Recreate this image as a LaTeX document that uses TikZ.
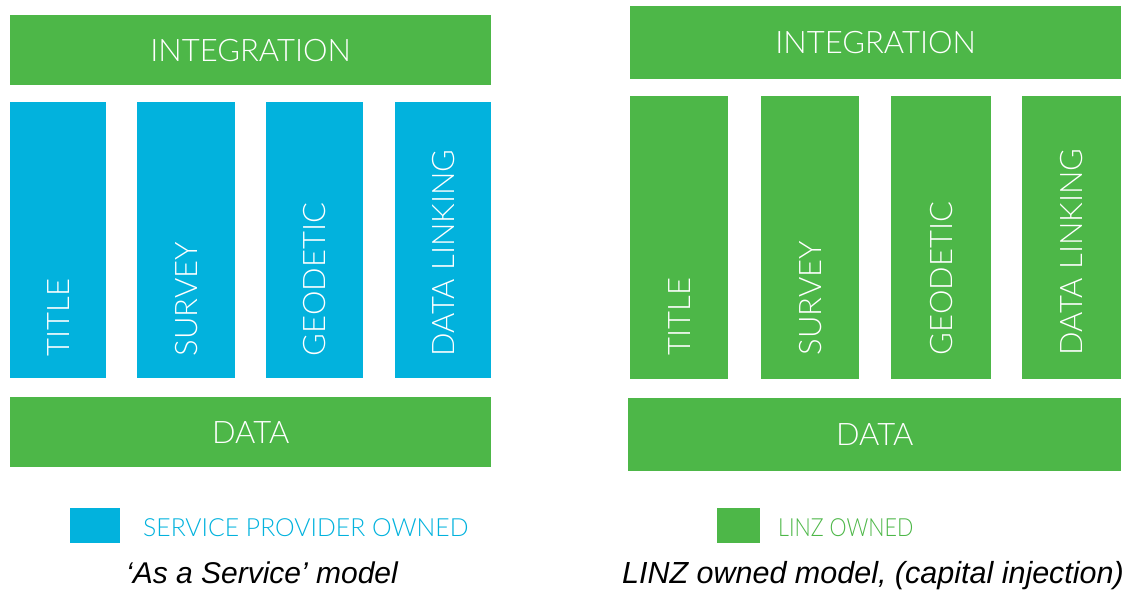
\documentclass[tikz,border=0pt]{standalone}
\usepackage{fontspec}
\newfontfamily\labelfont{Lato Light}
\newfontfamily\capfont{Liberation Sans}
\definecolor{linzgreen}{RGB}{77,183,72}
\definecolor{spblue}{RGB}{2,178,221}
\tikzset{
  block/.style={fill=#1, draw=none, inner sep=0pt, anchor=north west},
  barlabel/.style={text=white, font=\labelfont\fontsize{31}{31}\selectfont},
  collabel/.style={text=white, inner sep=0pt, rotate=90, anchor=west,
    font=\labelfont\fontsize{31}{31}\selectfont},
  keytext/.style={text=#1, inner sep=0pt, anchor=base west,
    font=\labelfont\fontsize{25}{25}\selectfont},
  caption/.style={text=black, inner sep=0pt, anchor=base,
    font=\capfont\itshape\fontsize{30}{30}\selectfont}
}
\begin{document}
\begin{tikzpicture}[x=1pt,y=-1pt]
\useasboundingbox (0,0) rectangle (1132,590);

% ---- 'As a Service' model ----
\node[block=linzgreen, minimum width=481pt, minimum height=70pt] (intL) at (10,15) {};
\node[barlabel] at (intL.center) {INTEGRATION};
\node[block=spblue, minimum width=96pt, minimum height=276pt] (titleL) at (10,102) {};
\node[block=spblue, minimum width=98pt, minimum height=276pt] (surveyL) at (137,102) {};
\node[block=spblue, minimum width=97pt, minimum height=276pt] (geoL) at (266,102) {};
\node[block=spblue, minimum width=96pt, minimum height=276pt] (linkL) at (395,102) {};
\foreach \c/\t in {titleL/TITLE, surveyL/SURVEY, geoL/GEODETIC, linkL/DATA LINKING}
  \node[collabel] at ([yshift=22pt]\c.south) {\t};
\node[block=linzgreen, minimum width=481pt, minimum height=70pt] (dataL) at (10,397) {};
\node[barlabel] at (dataL.center) {DATA};
\node[block=spblue, minimum width=50pt, minimum height=35pt] (keyL) at (70,508) {};
\node[keytext=spblue, xscale=0.99] (keyLtxt) at (143,536) {SERVICE PROVIDER OWNED};
\node[caption] (capL) at (262,583) {‘As a Service’ model};

% ---- LINZ owned model ----
\node[block=linzgreen, minimum width=491pt, minimum height=73pt] (intR) at (630,6) {};
\node[barlabel] at (intR.center) {INTEGRATION};
\node[block=linzgreen, minimum width=98pt, minimum height=283pt] (titleR) at (630,96) {};
\node[block=linzgreen, minimum width=98pt, minimum height=283pt] (surveyR) at (761,96) {};
\node[block=linzgreen, minimum width=100pt, minimum height=283pt] (geoR) at (891,96) {};
\node[block=linzgreen, minimum width=99pt, minimum height=283pt] (linkR) at (1022,96) {};
\foreach \c/\t in {titleR/TITLE, surveyR/SURVEY, geoR/GEODETIC, linkR/DATA LINKING}
  \node[collabel] at ([yshift=24pt]\c.south) {\t};
\node[block=linzgreen, minimum width=493pt, minimum height=73pt] (dataR) at (628,398) {};
\node[barlabel] at (dataR.center) {DATA};
\node[block=linzgreen, minimum width=43pt, minimum height=35pt] (keyR) at (717,508) {};
\node[keytext=linzgreen, xscale=0.86] (keyRtxt) at (778,536) {LINZ OWNED};
\node[caption, font=\capfont\itshape\fontsize{30.5}{30.5}\selectfont] (capR) at (873,583) {LINZ owned model, (capital injection)};
\end{tikzpicture}
\end{document}
